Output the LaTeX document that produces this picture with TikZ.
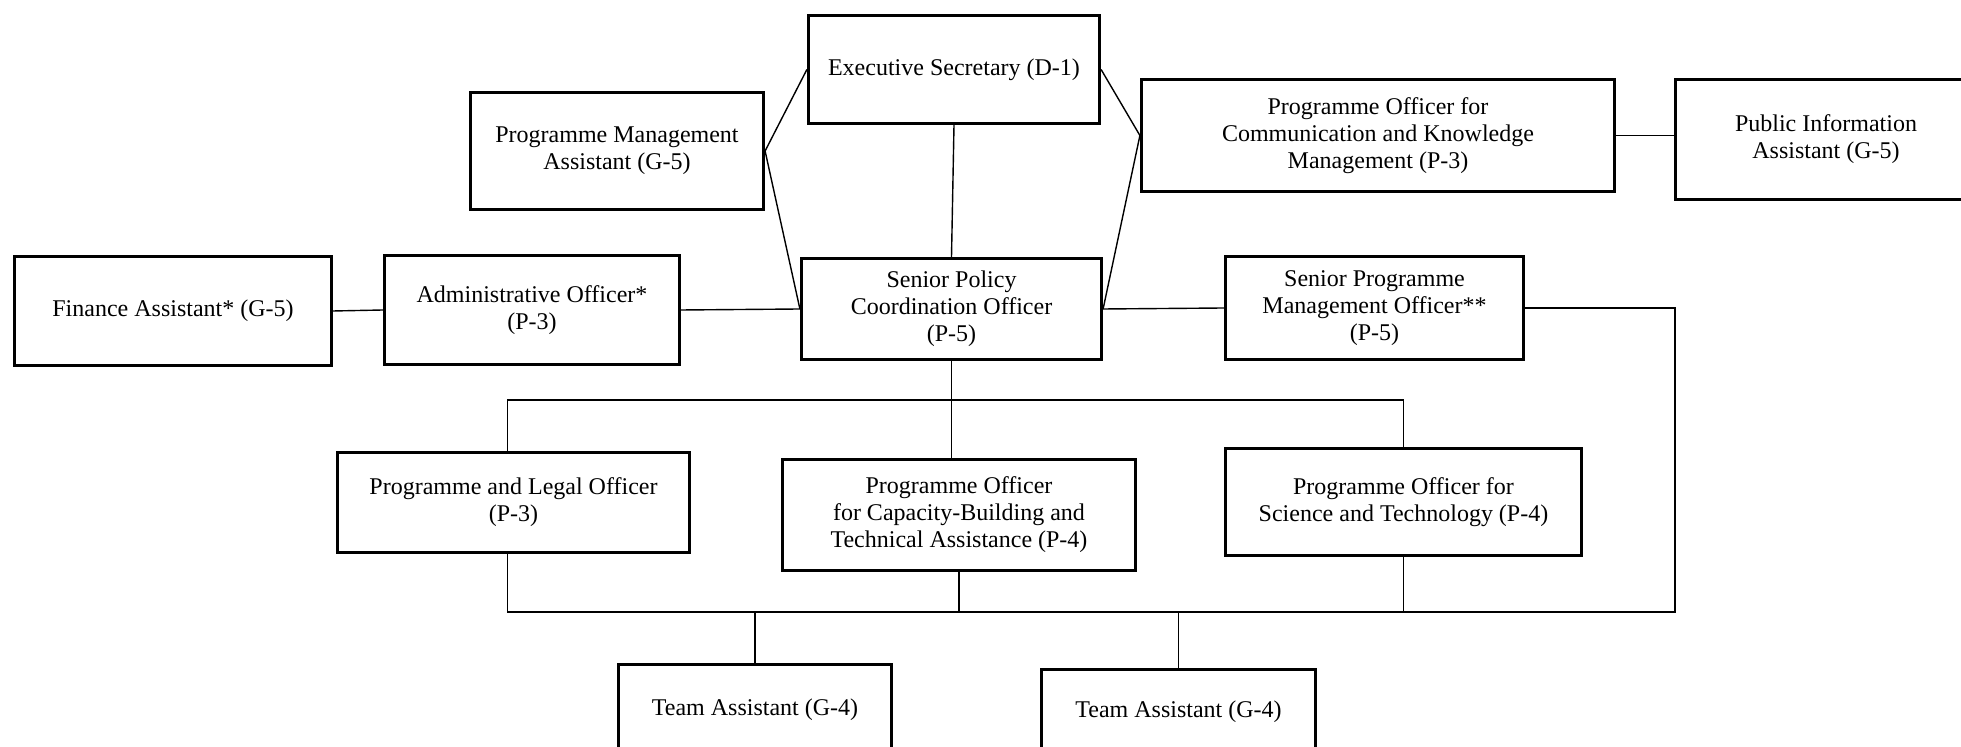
\documentclass[tikz,border=0pt]{standalone}
\usepackage{fontspec}
\setmainfont{Liberation Serif}
\tikzset{
    post/.style={draw, line width=1.6pt, fill=white, align=center, inner sep=0pt,
        font=\fontsize{12pt}{13.5pt}\selectfont},
    link/.style={line width=0.7pt}
}
\begin{document}
\begin{tikzpicture}[x=0.5pt, y=-0.5pt]
        \useasboundingbox (0,0) rectangle (1961,747);
        \clip (0,0) rectangle (1961,747);

        % Define the posts
        \node[post, minimum width=145.5pt, minimum height=54pt] (ES) at (954,69.5) {Executive Secretary (D-1)};
        \node[post, minimum width=146.5pt, minimum height=58.5pt] (PMA) at (617,151) {Programme Management\\Assistant (G-5)};
        \node[post, minimum width=236.5pt, minimum height=56pt] (POComm) at (1378,135.5) {Programme Officer for\\Communication and Knowledge\\Management (P-3)};
        \node[post, minimum width=150.5pt, minimum height=60pt] (PIA) at (1826,139.5) {Public Information\\Assistant (G-5)};

        \node[post, minimum width=158.5pt, minimum height=54.5pt] (Fin) at (173,311) {Finance Assistant* (G-5)};
        \node[post, minimum width=147.5pt, minimum height=54.5pt] (Adm) at (532,310) {Administrative Officer*\\(P-3)};
        \node[post, minimum width=150pt, minimum height=50.5pt] (SPCO) at (951.5,309) {Senior Policy\\Coordination Officer\\(P-5)};
        \node[post, minimum width=149pt, minimum height=51.5pt] (SPMO) at (1374.5,308) {Senior Programme\\Management Officer**\\(P-5)};

        \node[post, minimum width=176pt, minimum height=50pt] (PLO) at (513.5,502.5) {Programme and Legal Officer\\(P-3)};
        \node[post, minimum width=176.5pt, minimum height=55.5pt] (POCap) at (959,515) {Programme Officer\\for Capacity-Building and\\Technical Assistance (P-4)};
        \node[post, minimum width=178pt, minimum height=53.5pt] (POSci) at (1403.5,502) {Programme Officer for\\Science and Technology (P-4)};

        \node[post, minimum width=136.5pt, minimum height=45.5pt] (TA1) at (755,710) {Team Assistant (G-4)};
        \node[post, minimum width=137pt, minimum height=42.5pt] (TA2) at (1178.5,712) {Team Assistant (G-4)};

        % Define the links
        \draw[link] (ES.south) -- (SPCO.north);
        \draw[link] (ES.west) -- (PMA.east) -- (SPCO.west);
        \draw[link] (ES.east) -- (POComm.west) -- (SPCO.east);
        \draw[link] (POComm.east) -- (POComm.east -| PIA.west);
        \draw[link] (Fin.east) -- (Adm.west);
        \draw[link] (Adm.east) -- (SPCO.west);
        \draw[link] (SPCO.east) -- (SPMO.west);

        \coordinate (tb) at (952,400);
        \draw[link] (SPCO.south) -- (SPCO.south |- POCap.north);
        \draw[link] ([xshift=-3pt]PLO.north) |- (tb) -| (POSci.north);

        \coordinate (bb) at (1675,612);
        \draw[link] (SPMO.east) -| (bb) -| ([xshift=-3pt]PLO.south);
        \draw[link] (POCap.south) -- (POCap.south |- bb);
        \draw[link] (POSci.south) -- (POSci.south |- bb);
        \draw[link] (TA1.north) -- (TA1.north |- bb);
        \draw[link] (TA2.north) -- (TA2.north |- bb);

    \end{tikzpicture}
\end{document}
